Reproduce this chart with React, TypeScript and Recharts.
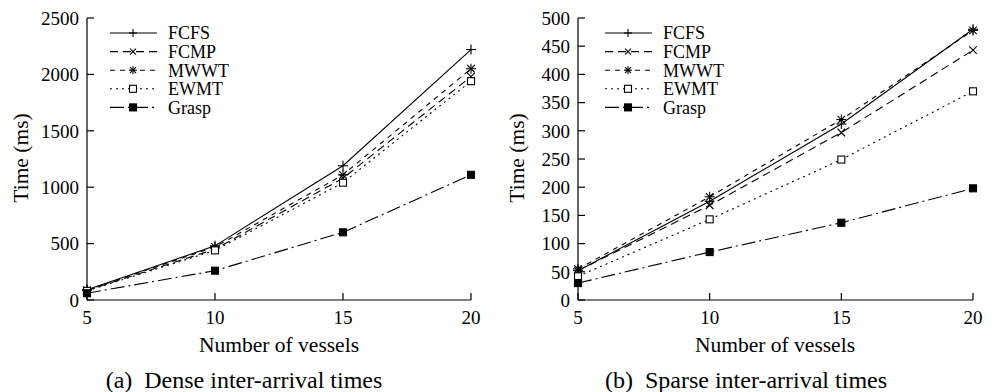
import { LineChart, Line, XAxis, YAxis, Legend } from 'recharts';

const vessels = [5, 10, 15, 20];

const denseFCFS = [90, 480, 1190, 2220];
const denseFCMP = [85, 450, 1080, 1980];
const denseMWWT = [88, 470, 1110, 2050];
const denseEWMT = [80, 440, 1040, 1940];
const denseGrasp = [60, 260, 600, 1110];

const sparseFCFS = [52, 175, 312, 480];
const sparseFCMP = [52, 168, 297, 443];
const sparseMWWT = [55, 183, 320, 478];
const sparseEWMT = [42, 143, 249, 370];
const sparseGrasp = [30, 85, 137, 198];

const denseTicks = [0, 500, 1000, 1500, 2000, 2500];
const sparseTicks = [0, 50, 100, 150, 200, 250, 300, 350, 400, 450, 500];

const seriesNames = ['FCFS', 'FCMP', 'MWWT', 'EWMT', 'Grasp'];
const dashes = ['', '8 5', '5 5', '2 4', '14 4 2 4'];
const markers = ['plus', 'cross', 'star', 'openSquare', 'filledSquare'];

const font = '"Liberation Serif", "Times New Roman", serif';

const build = (cols: number[][]) =>
  vessels.map((v, i) => {
    const row: any = { x: v };
    seriesNames.forEach((n, k) => (row[n] = cols[k][i]));
    return row;
  });

const denseData = build([denseFCFS, denseFCMP, denseMWWT, denseEWMT, denseGrasp]);
const sparseData = build([sparseFCFS, sparseFCMP, sparseMWWT, sparseEWMT, sparseGrasp]);

const Marker = ({ kind, cx, cy, s = 5 }: { kind: string; cx: number; cy: number; s?: number }) => {
  const st = { stroke: '#000', strokeWidth: 1.1 };
  const plus = (
    <>
      <line x1={cx - s} y1={cy} x2={cx + s} y2={cy} {...st} />
      <line x1={cx} y1={cy - s} x2={cx} y2={cy + s} {...st} />
    </>
  );
  const d = s * 0.75;
  const cross = (
    <>
      <line x1={cx - d} y1={cy - d} x2={cx + d} y2={cy + d} {...st} />
      <line x1={cx - d} y1={cy + d} x2={cx + d} y2={cy - d} {...st} />
    </>
  );
  if (kind === 'plus') return <g>{plus}</g>;
  if (kind === 'cross') return <g>{cross}</g>;
  if (kind === 'star') return <g>{plus}{cross}</g>;
  if (kind === 'openSquare')
    return <rect x={cx - 3.5} y={cy - 3.5} width={7} height={7} fill="#fff" {...st} />;
  return <rect x={cx - 3.5} y={cy - 3.5} width={7} height={7} fill="#000" {...st} />;
};

const LegendBox = () => (
  <svg width={150} height={100} style={{ display: 'block' }}>
    {seriesNames.map((n, i) => {
      const y = 11 + i * 18.6;
      return (
        <g key={n}>
          <line x1={5} y1={y} x2={52} y2={y} stroke="#000" strokeWidth={1.1} strokeDasharray={dashes[i] || undefined} />
          <Marker kind={markers[i]} cx={28} cy={y} s={4} />
          <text x={63} y={y} dy="0.35em" fontSize={18} fontFamily={font} fill="#000">
            {n}
          </text>
        </g>
      );
    })}
  </svg>
);

const tickStyle = { fill: '#000', fontSize: 19, fontFamily: font };

function Panel({ data, ticks, max, mLeft, mRight }: { data: any[]; ticks: number[]; max: number; mLeft: number; mRight: number }) {
  return (
    <LineChart width={495} height={340} data={data} margin={{ top: 18, right: mRight, bottom: 10, left: mLeft }}>
      <XAxis
        dataKey="x"
        type="number"
        domain={[5, 20]}
        ticks={vessels}
        tickSize={-7}
        tickMargin={18}
        stroke="#000"
        strokeWidth={1.2}
        tick={tickStyle}
        height={30}
      />
      <XAxis
        xAxisId="top"
        orientation="top"
        dataKey="x"
        type="number"
        domain={[5, 20]}
        ticks={vessels}
        tickSize={-7}
        tick={false}
        stroke="#000"
        strokeWidth={1.2}
        height={0}
      />
      <YAxis
        type="number"
        domain={[0, max]}
        ticks={ticks}
        tickSize={-7}
        tickMargin={15}
        stroke="#000"
        strokeWidth={1.2}
        tick={tickStyle}
        width={50}
      />
      <YAxis
        yAxisId="right"
        orientation="right"
        type="number"
        domain={[0, max]}
        ticks={ticks}
        tickSize={-7}
        tick={false}
        stroke="#000"
        strokeWidth={1.2}
        width={0}
      />
      <Legend
        layout="horizontal"
        verticalAlign="middle"
        align="center"
        content={() => <LegendBox />}
        wrapperStyle={{ position: 'absolute', left: 105, top: 22, width: 150, height: 100 }}
      />
      {seriesNames.map((n, i) => (
        <Line
          key={n}
          dataKey={n}
          stroke="#000"
          strokeWidth={1.1}
          strokeDasharray={dashes[i] || undefined}
          isAnimationActive={false}
          dot={(p: any) => <Marker key={`${n}-${p.index}`} kind={markers[i]} cx={p.cx} cy={p.cy} />}
          activeDot={false}
          type="linear"
        />
      ))}
    </LineChart>
  );
}

const textAt = (cx: number, cy: number, size: number, rotate = false): React.CSSProperties => ({
  position: 'absolute',
  left: cx,
  top: cy,
  transform: `translate(-50%, -50%)${rotate ? ' rotate(-90deg)' : ''}`,
  whiteSpace: 'nowrap',
  fontFamily: font,
  fontSize: size,
  color: '#000',
  lineHeight: 1,
});

export default function App() {
  return (
    <div style={{ position: 'absolute', left: 0, top: 0, width: 995, height: 392, background: '#fff', overflow: 'hidden' }}>
      <div style={{ position: 'absolute', left: 0, top: 0 }}>
        <Panel data={denseData} ticks={denseTicks} max={2500} mLeft={37} mRight={24} />
      </div>
      <div style={{ position: 'absolute', left: 495, top: 0 }}>
        <Panel data={sparseData} ticks={sparseTicks} max={500} mLeft={33} mRight={17} />
      </div>
      <div style={textAt(22, 158, 21.5, true)}>Time (ms)</div>
      <div style={textAt(518, 158, 21.5, true)}>Time (ms)</div>
      <div style={textAt(279, 346, 21.5)}>Number of vessels</div>
      <div style={textAt(775, 346, 21.5)}>Number of vessels</div>
      <div style={textAt(244, 380, 24)}>(a)&nbsp; Dense inter-arrival times</div>
      <div style={textAt(746, 380, 24)}>(b)&nbsp; Sparse inter-arrival times</div>
    </div>
  );
}
